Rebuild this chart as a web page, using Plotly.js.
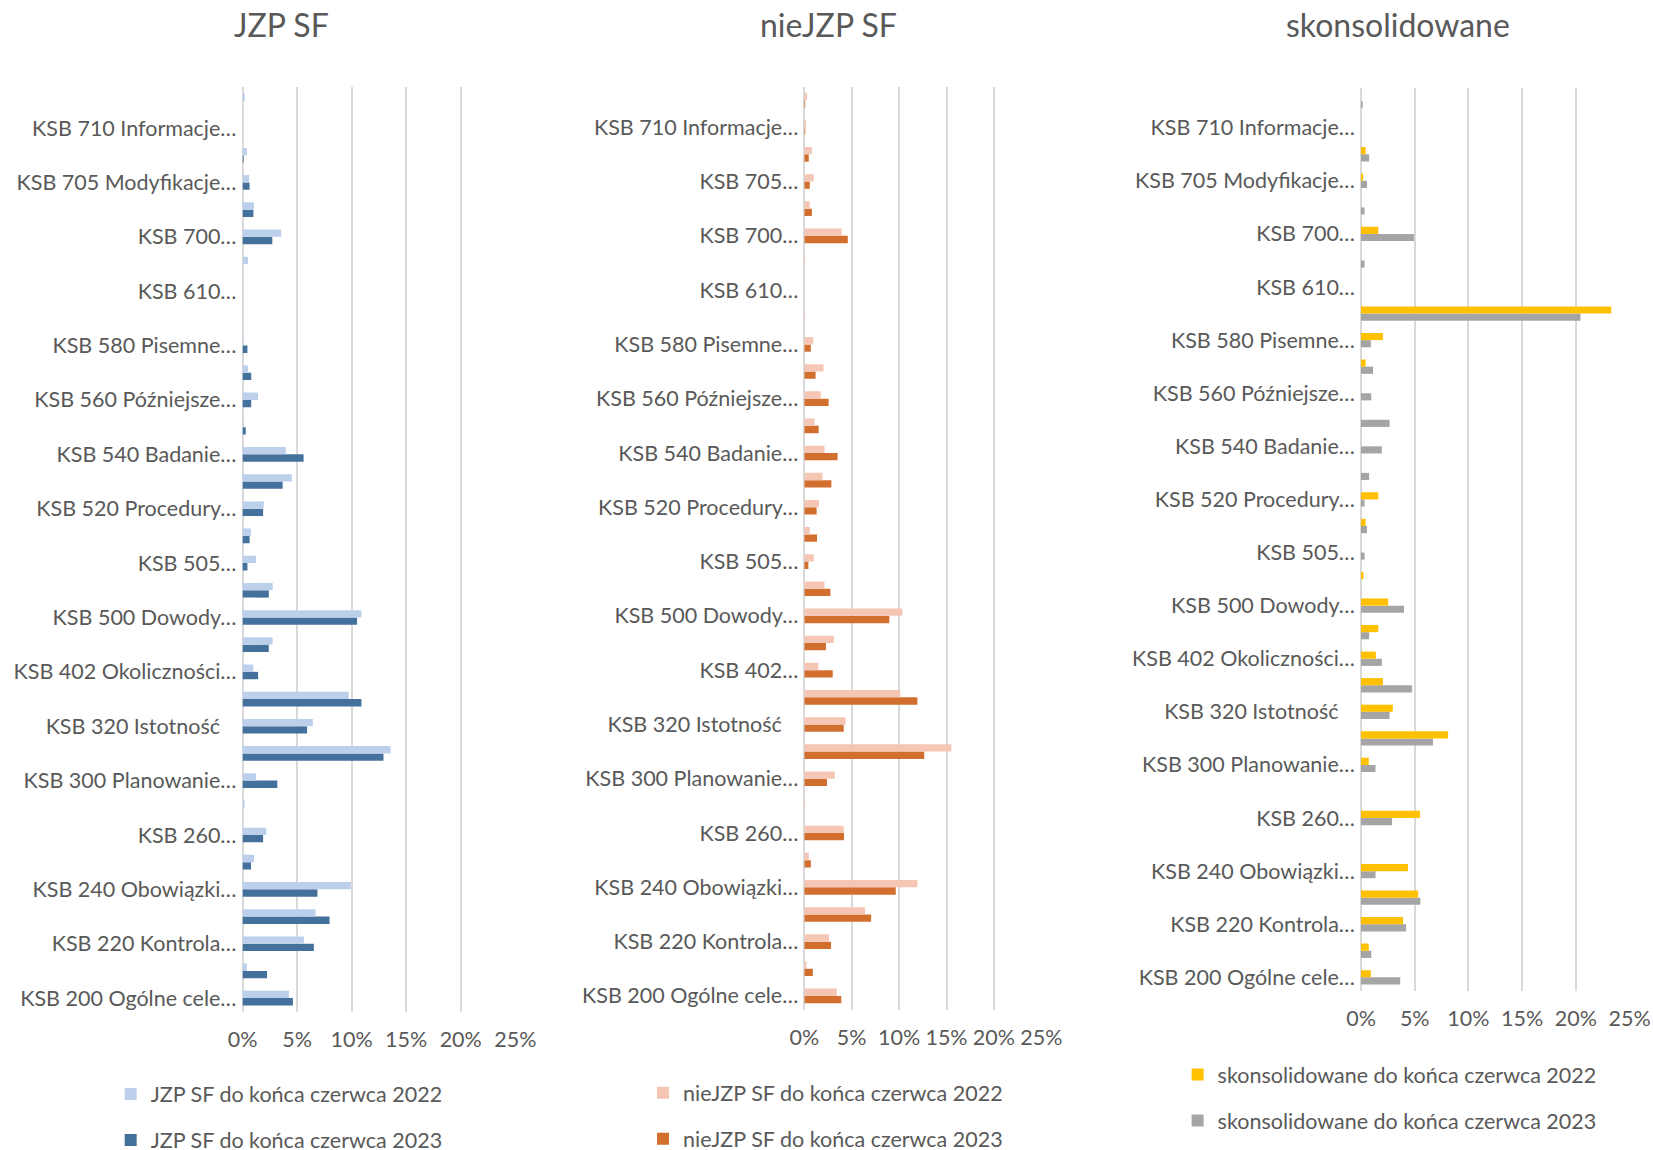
<!DOCTYPE html>
<html>
<head>
<meta charset="utf-8">
<script src="https://cdn.plot.ly/plotly-3.0.1.min.js"></script>
<style>
  html, body { margin: 0; padding: 0; background: #ffffff; }
  #chart { width: 1653px; height: 1150px; }
</style>
</head>
<body>
<div id="chart"></div>
<script>
// ---- DATA (values in %) ----
const categories = ['KSB 200','KSB 210','KSB 220','KSB 230','KSB 240','KSB 250','KSB 260','KSB 265',
  'KSB 300','KSB 315','KSB 320','KSB 330','KSB 402','KSB 450','KSB 500','KSB 501','KSB 505','KSB 510',
  'KSB 520','KSB 530','KSB 540','KSB 550','KSB 560','KSB 570','KSB 580','KSB 600','KSB 610','KSB 620',
  'KSB 700','KSB 701','KSB 705','KSB 706','KSB 710','KSB 720'];

const labelledCategories = ['KSB 200','KSB 220','KSB 240','KSB 260','KSB 300','KSB 320','KSB 402','KSB 500',
  'KSB 505','KSB 520','KSB 540','KSB 560','KSB 580','KSB 610','KSB 700','KSB 705','KSB 710'];

const tickLabelsJZP = ['KSB 200 Ogólne cele…','KSB 220 Kontrola…','KSB 240 Obowiązki…','KSB 260…',
  'KSB 300 Planowanie…','KSB 320 Istotność\u00a0\u00a0\u00a0','KSB 402 Okoliczności…','KSB 500 Dowody…','KSB 505…',
  'KSB 520 Procedury…','KSB 540 Badanie…','KSB 560 Późniejsze…','KSB 580 Pisemne…','KSB 610…',
  'KSB 700…','KSB 705 Modyfikacje…','KSB 710 Informacje…'];
const tickLabelsNieJZP = ['KSB 200 Ogólne cele…','KSB 220 Kontrola…','KSB 240 Obowiązki…','KSB 260…',
  'KSB 300 Planowanie…','KSB 320 Istotność\u00a0\u00a0\u00a0','KSB 402…','KSB 500 Dowody…','KSB 505…',
  'KSB 520 Procedury…','KSB 540 Badanie…','KSB 560 Późniejsze…','KSB 580 Pisemne…','KSB 610…',
  'KSB 700…','KSB 705…','KSB 710 Informacje…'];
const tickLabelsSkons = tickLabelsJZP;

const jzp2022 = [4.26,0.4,5.63,6.7,9.93,1.07,2.18,0.2,1.24,13.57,6.45,9.73,0.98,2.77,10.9,2.77,1.24,0.78,
  1.95,4.52,3.97,0.1,1.43,0.5,0.1,0,0,0.5,3.55,1.05,0.6,0.4,0,0.2];
const jzp2023 = [4.62,2.25,6.54,7.98,6.87,0.78,1.89,0,3.19,12.92,5.92,10.9,1.43,2.41,10.5,2.41,0.45,0.65,
  1.89,3.68,5.6,0.3,0.8,0.8,0.45,0,0,0,2.73,1.0,0.65,0.1,0,0];

const nie2022 = [3.43,0.25,2.6,6.4,11.93,0.47,4.16,0.1,3.22,15.51,4.37,10.12,1.48,3.11,10.34,2.13,1.0,0.58,
  1.55,1.92,2.13,1.08,1.74,2.02,0.94,0.1,0,0.1,3.94,0.58,1.0,0.8,0.18,0.29];
const nie2023 = [3.9,0.9,2.82,7.05,9.65,0.69,4.19,0,2.39,12.65,4.16,11.93,3.0,2.28,8.97,2.75,0.43,1.34,
  1.3,2.86,3.51,1.52,2.57,1.19,0.69,0,0,0,4.59,0.8,0.58,0.47,0.1,0.1];

const sk2022 = [0.92,0.72,3.91,5.32,4.37,0,5.49,0,0.72,8.11,2.96,2.04,1.38,1.61,2.53,0.23,0,0.43,
  1.61,0,0,0,0,0.43,2.04,23.29,0,0,1.61,0,0.2,0.43,0,0];
const sk2023 = [3.65,0.95,4.2,5.52,1.35,0,2.89,0,1.35,6.7,2.66,4.76,1.94,0.76,4.0,0,0.33,0.56,
  0.33,0.76,1.94,2.66,0.95,1.12,0.92,20.43,0,0.33,4.93,0.33,0.56,0.76,0,0.16];

const xTickVals = [0,5,10,15,20,25];
const xTickText = ['0%','5%','10%','15%','20%','25%'];

const panelTitles = ['JZP SF','nieJZP SF','skonsolidowane'];
const seriesNames = [
  ['JZP SF do końca czerwca 2022','JZP SF do końca czerwca 2023'],
  ['nieJZP SF do końca czerwca 2022','nieJZP SF do końca czerwca 2023'],
  ['skonsolidowane do końca czerwca 2022','skonsolidowane do końca czerwca 2023']
];
const colors = [['#BDD0EB','#44719C'],['#F5C6B4','#D26F2E'],['#FFC000','#A5A5A5']];

// ---- LAYOUT GEOMETRY ----
const W = 1653, H = 1150;
const FONT = 'Lato, Carlito, "Open Sans", sans-serif';
const TXT = '#595959';
const FS = 21.5;
const px = v => v / W;
const py = v => 1 - v / H;

const panels = [
  {x0: 242.5, x1: 515.5, top: 87.3, bottom: 1011.7, tx: 281.5, ty: 25, lx: 110.7, ly: 1073.5, d22: jzp2022, d23: jzp2023, ticks: tickLabelsJZP},
  {x0: 804.3, x1: 1041.5, top: 86.5, bottom: 1009.5, tx: 828.6, ty: 24, lx: 643, ly: 1072.2, d22: nie2022, d23: nie2023, ticks: tickLabelsNieJZP},
  {x0: 1361, x1: 1629.8, top: 87.9, bottom: 990.6, tx: 1397.9, ty: 25, lx: 1177.6, ly: 1054, d22: sk2022, d23: sk2023, ticks: tickLabelsSkons}
];

const traces = [];
const layout = {
  width: W, height: H,
  margin: {l: 0, r: 0, t: 0, b: 0, autoexpand: false},
  paper_bgcolor: '#ffffff', plot_bgcolor: '#ffffff',
  barmode: 'group', bargap: 0.46, bargroupgap: 0,
  font: {family: FONT, color: TXT, size: FS},
  annotations: []
};

panels.forEach((p, i) => {
  const n = i === 0 ? '' : String(i + 1);
  const xa = 'x' + n, ya = 'y' + n;
  const leg = 'legend' + n;
  // 2023 first so that 2022 sits above it within each group
  traces.push({
    type: 'bar', orientation: 'h', y: categories, x: p.d23,
    name: seriesNames[i][1], marker: {color: colors[i][1]},
    xaxis: xa, yaxis: ya, legend: leg, legendrank: 2, legendgroup: 'g' + i + 'b',
    hoverinfo: 'x+y'
  });
  traces.push({
    type: 'bar', orientation: 'h', y: categories, x: p.d22,
    name: seriesNames[i][0], marker: {color: colors[i][0]},
    xaxis: xa, yaxis: ya, legend: leg, legendrank: 1, legendgroup: 'g' + i + 'a',
    hoverinfo: 'x+y'
  });
  layout['xaxis' + n] = {
    domain: [px(p.x0), px(p.x1)], anchor: ya,
    range: [0, 25.02], tickmode: 'array', tickvals: xTickVals, ticktext: xTickText,
    showgrid: true, gridcolor: '#D9D9D9', gridwidth: 2,
    zeroline: true, zerolinecolor: '#D9D9D9', zerolinewidth: 2,
    showline: false, ticks: '', ticklabelstandoff: 13,
    tickfont: {family: FONT, size: FS, color: TXT}, fixedrange: true
  };
  layout['yaxis' + n] = {
    domain: [py(p.bottom), py(p.top)], anchor: xa,
    type: 'category', categoryorder: 'array', categoryarray: categories,
    range: [-0.5, categories.length - 0.5],
    tickmode: 'array', tickvals: labelledCategories, ticktext: p.ticks,
    showgrid: false, zeroline: false, showline: false, ticks: '',
    ticklabelstandoff: 5,
    tickfont: {family: FONT, size: FS, color: TXT}, fixedrange: true
  };
  layout[leg] = {
    x: px(p.lx), y: py(p.ly), xanchor: 'left', yanchor: 'top',
    orientation: 'v', traceorder: 'grouped', tracegroupgap: 15,
    bgcolor: 'rgba(0,0,0,0)', font: {family: FONT, size: FS, color: TXT}
  };
  layout.annotations.push({
    text: panelTitles[i], xref: 'paper', yref: 'paper',
    x: px(p.tx), y: py(p.ty), xanchor: 'center', yanchor: 'middle',
    showarrow: false, font: {family: FONT, size: 32, color: TXT}
  });
});

Plotly.newPlot('chart', traces, layout, {displayModeBar: false, staticPlot: true});
</script>
</body>
</html>
